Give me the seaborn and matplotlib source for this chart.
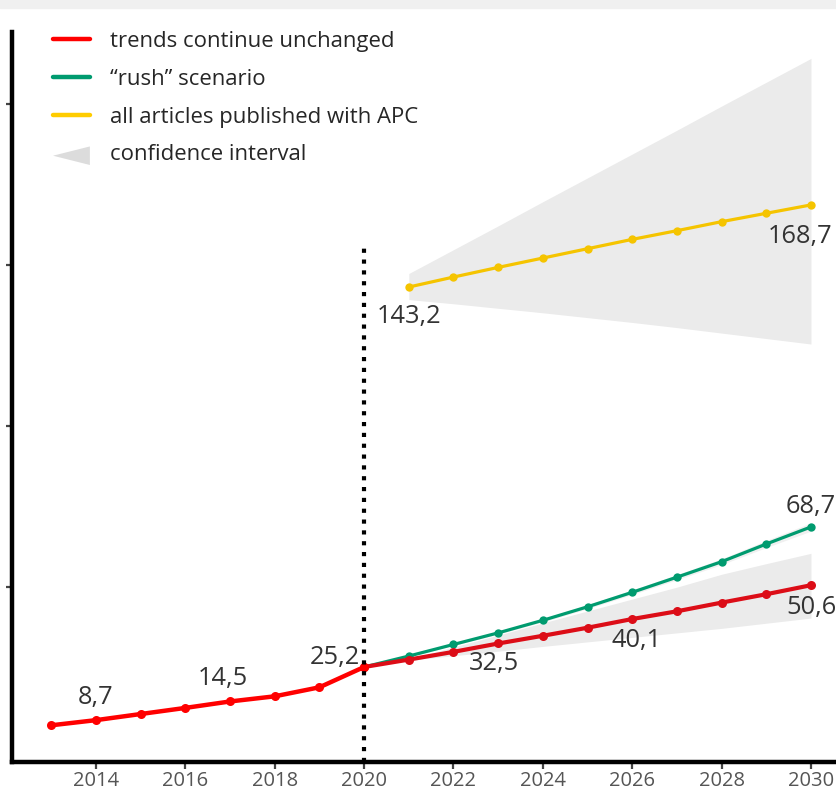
import numpy as np
import pandas as pd
import matplotlib
matplotlib.use("Agg")
import matplotlib.pyplot as plt
import seaborn as sns
from matplotlib.lines import Line2D
from matplotlib.patches import Polygon, Rectangle
from matplotlib.legend_handler import HandlerPatch


# --- data ---
years_hist = [2013, 2014, 2015, 2016, 2017, 2018, 2019, 2020]
trend_hist = [7.1, 8.7, 10.6, 12.5, 14.5, 16.1, 18.9, 25.2]

years_proj = [2020, 2021, 2022, 2023, 2024, 2025, 2026, 2027, 2028, 2029, 2030]
trend_proj = [25.2, 27.5, 29.9, 32.5, 34.9, 37.4, 40.1, 42.5, 45.2, 47.8, 50.6]
rush_proj = [25.2, 28.6, 32.2, 35.8, 39.7, 43.9, 48.4, 53.1, 57.9, 63.4, 68.7]

years_apc = [2021, 2022, 2023, 2024, 2025, 2026, 2027, 2028, 2029, 2030]
apc = [143.2, 146.3, 149.3, 152.2, 155.1, 158.0, 160.7, 163.5, 166.1, 168.7]

# confidence intervals (2021-2030)
trend_low = [27.3, 28.7, 30.1, 31.6, 33.0, 34.4, 35.8, 37.2, 38.8, 40.4]
trend_high = [27.7, 31.4, 35.1, 38.9, 42.6, 46.3, 50.0, 54.0, 57.3, 60.5]
rush_low = [28.4, 31.9, 35.4, 39.2, 43.3, 47.7, 52.3, 57.0, 62.3, 67.4]
rush_high = [28.8, 32.5, 36.2, 40.2, 44.5, 49.1, 53.9, 58.8, 64.5, 70.0]
apc_low = [139.3, 138.0, 136.6, 135.2, 133.7, 132.2, 130.6, 128.9, 127.2, 125.5]
apc_high = [147.4, 154.8, 162.2, 169.7, 177.1, 184.5, 191.9, 199.4, 206.8, 214.2]

legend_labels = ["trends continue unchanged", "\u201crush\u201d scenario",
                 "all articles published with APC", "confidence interval"]
x_ticks = [2014, 2016, 2018, 2020, 2022, 2024, 2026, 2028, 2030]
y_ticks = [50, 100, 150, 200]

RED = "#ff0000"
RED_PROJ = "#dc0d17"
GREEN = "#009b6f"
YELLOW = "#f5c400"
LEGEND_YELLOW = "#ffcc00"
BAND = "#ebebeb"

sns.set_style("white")
plt.rcParams["font.family"] = ["Open Sans", "DejaVu Sans"]

fig = plt.figure(figsize=(8.37, 7.92), dpi=100)
fig.patches.append(Rectangle((0, 1 - 8 / 792), 1, 8 / 792, transform=fig.transFigure,
                             color="#f0f0f0", zorder=0))
ax = fig.add_axes([12 / 837, 30 / 792, 866 / 837, 730 / 792])
ax.set_xlim(2012.12, 2031.5)
ax.set_ylim(-4.3, 222.4)

# confidence bands
ax.fill_between(years_apc, apc_low, apc_high, color=BAND, lw=0, zorder=1)
ax.fill_between(years_apc, trend_low, trend_high, color=BAND, lw=0, zorder=1)
ax.fill_between(years_apc, rush_low, rush_high, color="#f0f0f0", lw=0, zorder=1)

line_kw = dict(marker="o", markeredgewidth=0, ax=ax, legend=False)
sns.lineplot(x=years_proj, y=rush_proj, color=GREEN, lw=2.3, markersize=6, zorder=3, **line_kw)
sns.lineplot(x=years_proj, y=trend_proj, color=RED_PROJ, lw=3.0, markersize=6.5, zorder=4, **line_kw)
sns.lineplot(x=years_hist, y=trend_hist, color=RED, lw=3.2, markersize=6.5, zorder=5, **line_kw)
sns.lineplot(x=years_apc, y=apc, color=YELLOW, lw=2.3, markersize=6, zorder=3, **line_kw)

# 2020 separator
ax.vlines(2020, -4.3, 155.5, colors="black", linewidth=3.0,
          linestyles=(0, (1, 1.6)), zorder=6)


def fmt(v):
    return f"{v:.1f}".replace(".", ",")


lab_kw = dict(fontsize=18.3, color="#333333", zorder=7)
ax.text(2014, trend_hist[1] + 7, fmt(trend_hist[1]), ha="center", va="center", **lab_kw)
ax.text(2016.85, trend_hist[4] + 7, fmt(trend_hist[4]), ha="center", va="center", **lab_kw)
ax.text(2019.9, trend_hist[7] + 3, fmt(trend_hist[7]), ha="right", va="center", **lab_kw)
ax.text(2022.9, trend_proj[3] - 6.2, fmt(trend_proj[3]), ha="center", va="center", **lab_kw)
ax.text(2026.1, trend_proj[6] - 6.6, fmt(trend_proj[6]), ha="center", va="center", **lab_kw)
ax.text(2030.0, trend_proj[10] - 6.9, fmt(trend_proj[10]), ha="center", va="center", **lab_kw)
ax.text(2030.0, rush_proj[10] + 6.3, fmt(rush_proj[10]), ha="center", va="center", **lab_kw)
ax.text(2021.0, apc[0] - 9.0, fmt(apc[0]), ha="center", va="center", **lab_kw)
ax.text(2029.75, apc[9] - 9.9, fmt(apc[9]), ha="center", va="center", **lab_kw)

# axes styling
ax.set_xticks(x_ticks)
ax.set_yticks(y_ticks)
ax.set_yticklabels([])
ax.tick_params(axis="x", labelsize=14.5, labelcolor="#555555", color="#444444",
               length=5, width=1.6, pad=1.5, direction="out", bottom=True)
ax.tick_params(axis="y", color="#444444", length=4, width=1.6, direction="out", left=True)
for side in ["top", "right"]:
    ax.spines[side].set_visible(False)
for side in ["left", "bottom"]:
    ax.spines[side].set_linewidth(3.2)
    ax.spines[side].set_color("black")
ax.grid(False)


class HandlerWedge(HandlerPatch):
    def create_artists(self, legend, orig_handle, xdescent, ydescent, width, height,
                       fontsize, trans):
        verts = [(-xdescent, -ydescent + height * 0.3),
                 (-xdescent + width, -ydescent + height * 0.9),
                 (-xdescent + width, -ydescent - height * 0.3)]
        p = Polygon(verts, closed=True, facecolor="#dcdcdc", edgecolor="none")
        p.set_transform(trans)
        return [p]


handles = [Line2D([], [], color=RED, lw=3.2),
           Line2D([], [], color=GREEN, lw=3.2),
           Line2D([], [], color=LEGEND_YELLOW, lw=3.2),
           Polygon([[0, 0], [1, 0], [1, 1]], facecolor="#dcdcdc")]
ax.legend(handles, legend_labels, handler_map={Polygon: HandlerWedge()},
          loc="upper left", bbox_to_anchor=(53 / 837, 1 - 31 / 792),
          bbox_transform=fig.transFigure, frameon=False, fontsize=15.9,
          handlelength=1.67, handletextpad=0.9, labelspacing=0.76,
          borderpad=0, borderaxespad=0)

fig.savefig("out.png", dpi=100)
